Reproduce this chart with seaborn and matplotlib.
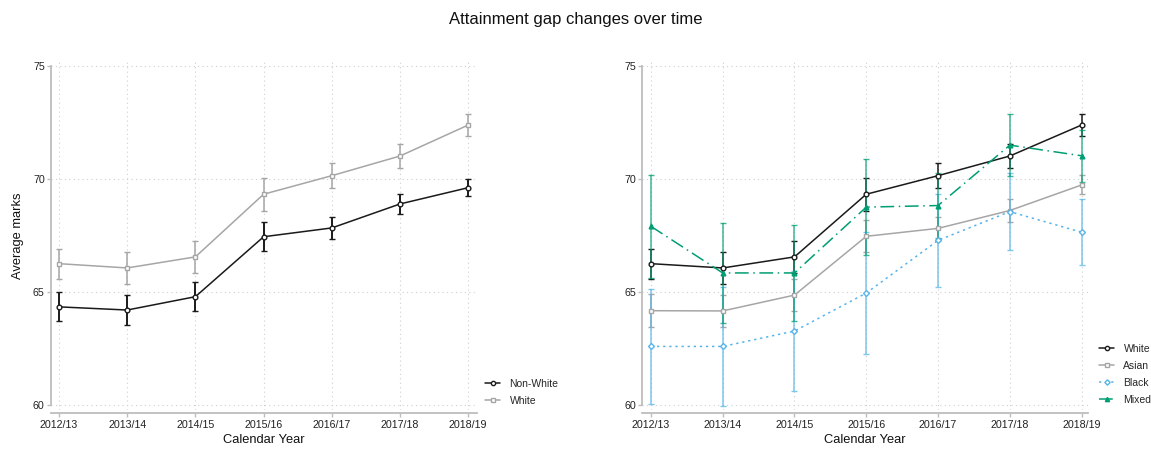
import numpy as np
import matplotlib
matplotlib.use("Agg")
import matplotlib.pyplot as plt
import seaborn as sns

# ---- data -------------------------------------------------------------
years = ["2012/13", "2013/14", "2014/15", "2015/16", "2016/17", "2017/18", "2018/19"]

# average marks and 95% CI half-widths, by group
white_mean = [66.26, 66.07, 66.56, 69.33, 70.15, 71.02, 72.39]
white_ci = [0.67, 0.70, 0.71, 0.72, 0.55, 0.53, 0.50]

nonwhite_mean = [64.35, 64.21, 64.80, 67.45, 67.84, 68.90, 69.62]
nonwhite_ci = [0.64, 0.65, 0.64, 0.64, 0.47, 0.43, 0.38]

asian_mean = [64.18, 64.17, 64.87, 67.47, 67.82, 68.61, 69.74]
asian_ci = [0.74, 0.72, 0.70, 0.71, 0.52, 0.49, 0.42]

black_mean = [62.60, 62.60, 63.28, 64.96, 67.29, 68.56, 67.65]
black_ci = [2.56, 2.64, 2.65, 2.70, 2.07, 1.69, 1.47]

mixed_mean = [67.91, 65.85, 65.85, 68.76, 68.83, 71.50, 71.03]
mixed_ci = [2.29, 2.23, 2.13, 2.11, 1.45, 1.38, 1.15]

y_ticks = [60, 65, 70, 75]

# ---- styling ----------------------------------------------------------
sns.set_theme(style="white")
plt.rcParams["font.family"] = ["Liberation Sans", "DejaVu Sans"]

BLACK = "#1a1a1a"
GREY = "#a6a6a6"
SKY = "#56B4E9"
SEA = "#009E73"
AXIS_GREY = "#bdbdbd"
GRID_GREY = "#cfcfcf"

fig = plt.figure(figsize=(11.51, 4.5), dpi=100)
fig.patch.set_facecolor("white")

ax_left = fig.add_axes([0.0443, 0.0889, 0.3701, 0.774])
ax_right = fig.add_axes([0.558, 0.0889, 0.3872, 0.774])

x = np.arange(len(years))


def draw_series(ax, mean, ci, color, marker, ls, label, filled=False,
                ebar_alpha=1.0, ebar_width=1.1):
    ax.errorbar(x, mean, yerr=ci, fmt="none", ecolor=color, elinewidth=ebar_width,
                capsize=2.4, capthick=1.0, alpha=ebar_alpha, zorder=2)
    sns.lineplot(x=x, y=mean, ax=ax, color=color, linestyle=ls, linewidth=1.1,
                 marker=marker, markersize=3.4 if marker != "D" else 3.0,
                 markerfacecolor=color if filled else "white",
                 markeredgecolor=color, markeredgewidth=1.0,
                 label=label, zorder=3)


def style_axes(ax, xlim):
    ax.set_xlim(*xlim)
    ax.set_ylim(59.79, 75.19)
    ax.set_xticks(x)
    ax.set_xticklabels(years)
    ax.set_yticks(y_ticks)
    ax.set_facecolor("white")
    ax.grid(True, color=GRID_GREY, linestyle=(0, (1, 3)), linewidth=0.8)
    ax.set_axisbelow(True)
    for side in ("top", "right"):
        ax.spines[side].set_visible(False)
    ax.spines["left"].set_bounds(60, 75)
    ax.spines["left"].set_color(AXIS_GREY)
    ax.spines["left"].set_linewidth(1.3)
    ax.spines["bottom"].set_color(AXIS_GREY)
    ax.spines["bottom"].set_linewidth(1.3)
    ax.spines["bottom"].set_position(("outward", 2.5))
    ax.tick_params(axis="both", which="major", direction="out", length=3.0,
                   width=1.0, color=AXIS_GREY, labelsize=7.7, labelcolor="#222222",
                   pad=1.5, bottom=True, left=True)
    ax.set_xlabel("Calendar Year", fontsize=9.3, color="#111111")
    ax.xaxis.set_label_coords(0.5, -0.068)


# left panel: Non-White vs White
draw_series(ax_left, nonwhite_mean, nonwhite_ci, BLACK, "o", "-", "Non-White",
            ebar_width=1.4)
draw_series(ax_left, white_mean, white_ci, GREY, "s", "-", "White")
style_axes(ax_left, (-0.117, 6.128))
ax_left.set_ylabel("Average marks", fontsize=9.3, color="#111111")
ax_left.yaxis.set_label_coords(-0.064, 0.5)

# right panel: by ethnic group
draw_series(ax_right, white_mean, white_ci, BLACK, "o", "-", "White")
draw_series(ax_right, asian_mean, asian_ci, GREY, "s", "-", "Asian")
draw_series(ax_right, black_mean, black_ci, SKY, "D", (0, (1.5, 2.5)), "Black",
            ebar_alpha=0.75)
draw_series(ax_right, mixed_mean, mixed_ci, SEA, "^", (0, (9, 3, 1, 3)), "Mixed",
            filled=True, ebar_alpha=0.75)
style_axes(ax_right, (-0.121, 6.088))
ax_right.set_ylabel("")

legend_kw = dict(frameon=False, fontsize=7.5, handlelength=1.45, handletextpad=0.9,
                 labelspacing=0.68, borderaxespad=0, borderpad=0, markerscale=0.9)
ax_left.legend(loc="lower left", bbox_to_anchor=(485 / 1151, 1 - 406 / 450),
               bbox_transform=fig.transFigure, **legend_kw)
ax_right.legend(loc="lower left", bbox_to_anchor=(1099 / 1151, 1 - 405 / 450),
                bbox_transform=fig.transFigure, **legend_kw)

fig.suptitle("Attainment gap changes over time", fontsize=12, y=0.973,
             color="#111111")

fig.savefig("out.png", dpi=100, facecolor="white")
